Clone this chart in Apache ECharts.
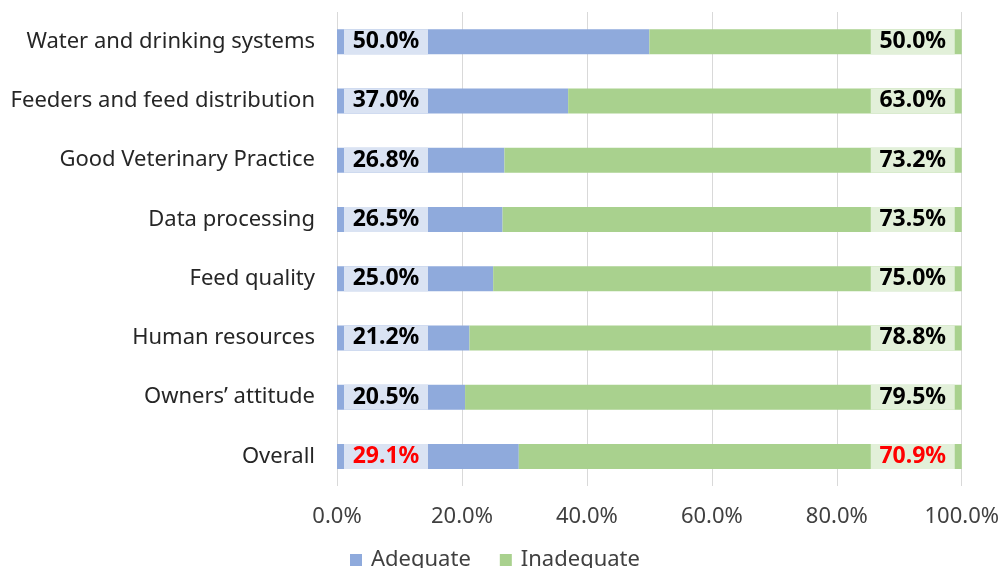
<!DOCTYPE html>
<html><head><meta charset="utf-8">
<script src="https://cdn.jsdelivr.net/npm/echarts@6/dist/echarts.min.js"></script>
<style>html,body{margin:0;padding:0;background:#fff}#c{width:1002px;height:568px}</style>
</head><body><div id="c"></div>
<script>
const categories = ["Water and drinking systems","Feeders and feed distribution","Good Veterinary Practice","Data processing","Feed quality","Human resources","Owners\u2019 attitude","Overall"];
const adequate = [50.0, 37.0, 26.8, 26.5, 25.0, 21.2, 20.5, 29.1];
const inadequate = [50.0, 63.0, 73.2, 73.5, 75.0, 78.8, 79.5, 70.9];
const tickLabels = ["0.0%","20.0%","40.0%","60.0%","80.0%","100.0%"];
const highlightCategory = "Overall";

function lbl(bg, pos) {
  const base = { width: 84, height: 25, lineHeight: 25, align: 'center', backgroundColor: bg, fontWeight: 'bold', fontSize: 23, fontFamily: 'Noto Sans' };
  return {
    show: true,
    position: pos,
    distance: 7,
    formatter: function (p) {
      const t = p.value.toFixed(1) + '%';
      return p.name === highlightCategory ? '{r|' + t + '}' : '{k|' + t + '}';
    },
    rich: {
      k: Object.assign({ color: '#000' }, base),
      r: Object.assign({ color: '#ff0000' }, base)
    }
  };
}

const chart = echarts.init(document.getElementById('c'));
chart.setOption({
  animation: false,
  grid: { left: 337, right: 40, top: 12, bottom: 82 },
  legend: {
    data: ['Adequate','Inadequate'],
    left: 345, top: 544,
    itemWidth: 12, itemHeight: 12, itemGap: 29,
    icon: 'rect',
    textStyle: { fontFamily: 'Noto Sans', fontSize: 22, color: '#404040', padding: [0, 0, 0, 4] }
  },
  xAxis: {
    type: 'value', min: 0, max: 100, interval: 20,
    axisLine: { show: false }, axisTick: { show: false },
    splitLine: { lineStyle: { color: '#d9d9d9', width: 1 } },
    axisLabel: { margin: 20, fontFamily: 'Noto Sans', fontSize: 22, color: '#404040',
      formatter: function (v) { return tickLabels[Math.round(v / 20)]; } }
  },
  yAxis: {
    type: 'category', data: categories, inverse: true,
    axisLine: { show: false }, axisTick: { show: false },
    axisLabel: { margin: 22, fontFamily: 'Noto Sans', fontSize: 22, color: '#262626' }
  },
  series: [
    { name: 'Adequate', type: 'bar', stack: 's', data: adequate, barWidth: 25,
      itemStyle: { color: '#8faadc' }, label: lbl('#dae3f3', 'insideLeft') },
    { name: 'Inadequate', type: 'bar', stack: 's', data: inadequate, barWidth: 25,
      itemStyle: { color: '#a9d18e' }, label: lbl('#e2f0d9', 'insideRight') }
  ]
});
</script></body></html>
